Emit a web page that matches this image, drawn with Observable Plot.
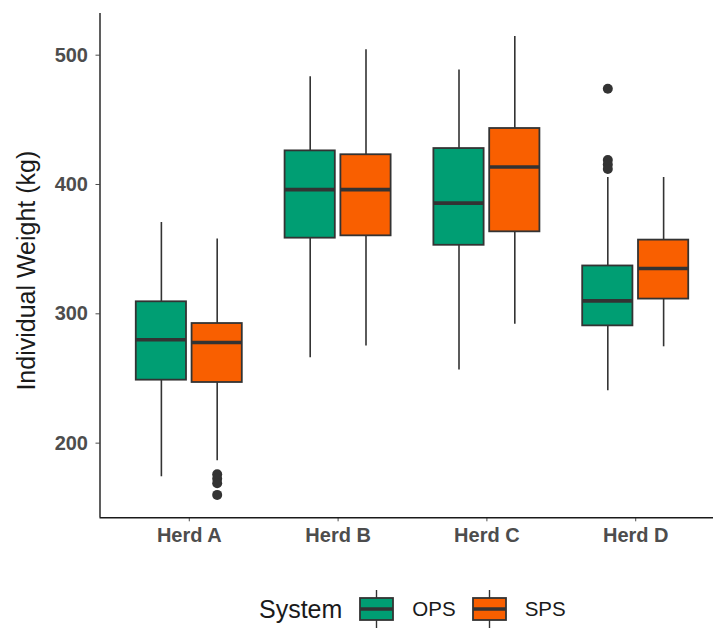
<!DOCTYPE html>
<html>
<head>
<meta charset="utf-8">
<script src="https://cdn.jsdelivr.net/npm/d3@7"></script>
<script src="https://cdn.jsdelivr.net/npm/@observablehq/plot@0.6"></script>
<style>
  html, body { margin: 0; padding: 0; background: #fff; overflow: hidden; width: 713px; height: 628px; }
  #chart svg { display: block; }
  #legend { display: flex; align-items: center; height: 48px; padding-left: 259px; padding-top: 10px; box-sizing: border-box;
            font-family: "Liberation Sans", Arial, sans-serif; color: #1a1a1a; }
  #legend .title { font-size: 25px; margin-right: 17px; }
  #legend .lab { font-size: 20.5px; margin-left: 18px; margin-right: 16px; }
</style>
</head>
<body>
<div id="chart"></div>
<div id="legend"></div>
<script>
// ---- data ----
const herds = ["Herd A", "Herd B", "Herd C", "Herd D"];
const systems = ["OPS", "SPS"];
const systemColors = ["#009E73", "#F95F00"];

const opsLow    = [174, 266, 256.5, 240.5];
const opsQ1     = [248.7, 358.5, 353, 290.7];
const opsMedian = [280, 396, 385.6, 310];
const opsQ3     = [309.3, 426, 427.8, 337];
const opsHigh   = [370.6, 483.3, 488.5, 405.4];

const spsLow    = [186.3, 275.2, 292, 274.5];
const spsQ1     = [246.9, 360.3, 363.4, 311.4];
const spsMedian = [277.8, 396, 413.5, 335];
const spsQ3     = [292.5, 423, 443.3, 357];
const spsHigh   = [357.8, 504.2, 514.5, 405.4];

const outlierHerd   = ["Herd A", "Herd A", "Herd A", "Herd A", "Herd D", "Herd D", "Herd D", "Herd D"];
const outlierSystem = ["SPS", "SPS", "SPS", "SPS", "OPS", "OPS", "OPS", "OPS"];
const outlierWeight = [176, 172.5, 169, 160, 474, 419, 415.5, 412];

const yTicks = [200, 300, 400, 500];
const yLabel = "Individual Weight (kg)";

// ---- layout helpers (ggplot-like dodge) ----
const dodgeWidth = 0.75;
const slot = dodgeWidth / systems.length;
const halfBox = slot * 0.9 / 2;
const center = (h, s) => herds.indexOf(h) + 1 + (systems.indexOf(s) - (systems.length - 1) / 2) * slot;

const stats = [];
herds.forEach((h, i) => {
  stats.push({herd: h, system: "OPS", low: opsLow[i], q1: opsQ1[i], median: opsMedian[i], q3: opsQ3[i], high: opsHigh[i]});
  stats.push({herd: h, system: "SPS", low: spsLow[i], q1: spsQ1[i], median: spsMedian[i], q3: spsQ3[i], high: spsHigh[i]});
});
stats.forEach(d => { d.xc = center(d.herd, d.system); d.x1 = d.xc - halfBox; d.x2 = d.xc + halfBox; });
const outliers = outlierWeight.map((w, i) => ({herd: outlierHerd[i], system: outlierSystem[i], weight: w, xc: center(outlierHerd[i], outlierSystem[i])}));

const allVals = stats.flatMap(d => [d.low, d.high]).concat(outlierWeight);
const vmin = d3.min(allVals), vmax = d3.max(allVals);
const pad = (vmax - vmin) * 0.05;

const ink = "#333333";

const plot = Plot.plot({
  width: 713,
  height: 580,
  marginLeft: 99.5,
  marginRight: 0,
  marginTop: 13,
  marginBottom: 62.7,
  style: {fontFamily: "Liberation Sans, Arial, sans-serif", fontSize: "20px", fontWeight: "bold", color: "#4D4D4D", background: "#fff"},
  x: {type: "linear", domain: [0.4, 4.6], range: [99.5, 724.5], ticks: [1, 2, 3, 4], tickFormat: i => herds[i - 1], tickSize: 4, tickPadding: 6, label: null},
  y: {domain: [vmin - pad, vmax + pad], ticks: yTicks, tickSize: 4, tickPadding: 8, label: null},
  color: {domain: systems, range: systemColors},
  marks: [
    Plot.ruleX(stats, {x: "xc", y1: "low", y2: "q1", stroke: ink, strokeWidth: 1.6}),
    Plot.ruleX(stats, {x: "xc", y1: "q3", y2: "high", stroke: ink, strokeWidth: 1.6}),
    Plot.rect(stats, {x1: "x1", x2: "x2", y1: "q1", y2: "q3", fill: "system", stroke: ink, strokeWidth: 1.8}),
    Plot.ruleY(stats, {y: "median", x1: "x1", x2: "x2", stroke: ink, strokeWidth: 3.6}),
    Plot.dot(outliers, {x: "xc", y: "weight", r: 5, fill: ink, stroke: "none"}),
    Plot.ruleX([0.4], {stroke: "#1a1a1a", strokeWidth: 1.4}),
    Plot.ruleY([vmin - pad], {stroke: "#1a1a1a", strokeWidth: 1.4}),
    Plot.text([yLabel], {text: d => d, frameAnchor: "left", textAnchor: "middle", rotate: -90, dx: -73, dy: 5, fontSize: 25, fontWeight: "normal", fill: "#1a1a1a"})
  ]
});
document.getElementById("chart").appendChild(plot);

// ---- legend ----
const legend = d3.select("#legend");
legend.append("span").attr("class", "title").text("System");
systems.forEach((s, i) => {
  const svg = legend.append("svg").attr("width", 35).attr("height", 38).style("display", "block");
  svg.append("line").attr("x1", 17.5).attr("x2", 17.5).attr("y1", 0).attr("y2", 38).attr("stroke", ink).attr("stroke-width", 1.4);
  svg.append("rect").attr("x", 1).attr("y", 8).attr("width", 33).attr("height", 22)
     .attr("fill", systemColors[i]).attr("stroke", ink).attr("stroke-width", 1.8);
  svg.append("line").attr("x1", 1).attr("x2", 34).attr("y1", 19).attr("y2", 19).attr("stroke", ink).attr("stroke-width", 3.4);
  legend.append("span").attr("class", "lab").text(s);
});
</script>
</body>
</html>
